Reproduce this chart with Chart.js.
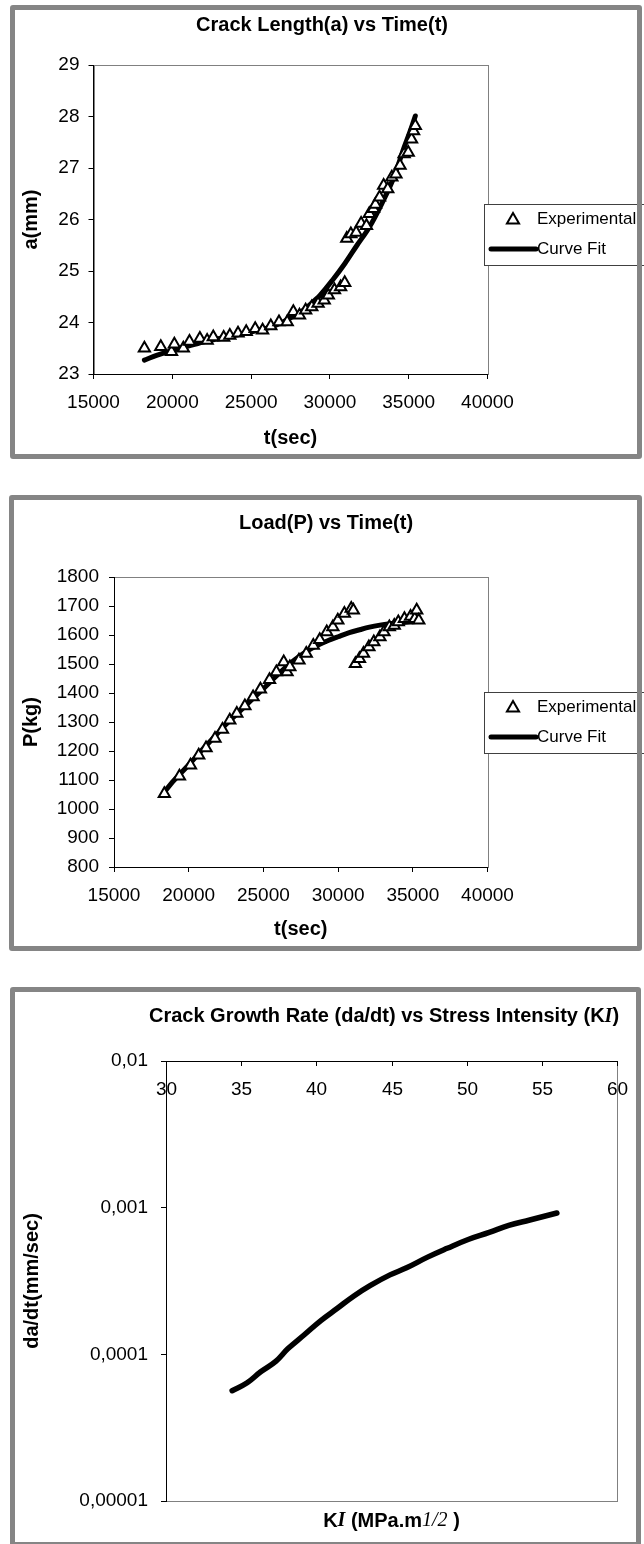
<!DOCTYPE html>
<html>
<head>
<meta charset="utf-8">
<script src="https://cdn.jsdelivr.net/npm/chart.js@4.4.0/dist/chart.umd.min.js"></script>
<style>
  body { margin: 0; background: #fff; width: 644px; height: 1544px; position: relative; overflow: hidden; }
  .box { position: absolute; left: 0; width: 644px; }
  .box canvas { position: absolute; left: 0; top: 0; }
  .frame { position: absolute; border: 5px solid #858585; border-radius: 3px; box-sizing: border-box; }
</style>
</head>
<body>
<div class="box" style="top:0;height:460px"><canvas id="c1" width="644" height="460"></canvas></div>
<div class="box" style="top:490px;height:465px"><canvas id="c2" width="644" height="465"></canvas></div>
<div class="box" style="top:985px;height:559px"><canvas id="c3" width="644" height="559"></canvas></div>
<div class="frame" style="left:10px;top:5px;width:632px;height:454px"></div>
<div class="frame" style="left:9px;top:495px;width:633px;height:456px"></div>
<div class="frame" style="left:10px;top:987px;width:631px;height:560px"></div>
<script>
// chart 1 : crack length vs time
const t1Exp = [18230, 19270, 19950, 20130, 20700, 21090, 21750, 22210, 22600, 23260, 23650, 24170, 24690, 25260, 25730, 26250, 26770, 27290, 27680, 28070, 28460, 28850, 29250, 29640, 29900, 30290, 30680, 30940, 31070, 31330, 31670, 31980, 32320, 32500, 32760, 32890, 33150, 33410, 33670, 33930, 34190, 34450, 34710, 34970, 35180, 35310, 35420];
const a1Exp = [23.50, 23.53, 23.43, 23.58, 23.50, 23.63, 23.69, 23.65, 23.72, 23.71, 23.75, 23.79, 23.82, 23.88, 23.85, 23.93, 24.01, 24.01, 24.21, 24.14, 24.24, 24.30, 24.37, 24.43, 24.53, 24.63, 24.69, 24.77, 25.63, 25.72, 25.75, 25.92, 25.88, 26.11, 26.21, 26.29, 26.43, 26.66, 26.59, 26.82, 26.88, 27.05, 27.27, 27.30, 27.56, 27.72, 27.82];
const t1Fit = [18230, 19000, 20000, 21000, 22080, 23000, 24000, 24690, 25500, 26000, 26770, 27500, 28330, 29000, 29380, 30160, 30940, 31720, 32500, 33280, 34060, 34710, 35100, 35420];
const a1Fit = [23.27, 23.36, 23.46, 23.54, 23.63, 23.69, 23.75, 23.79, 23.85, 23.89, 23.97, 24.09, 24.24, 24.42, 24.53, 24.82, 25.14, 25.50, 25.85, 26.30, 26.82, 27.40, 27.72, 28.01];

// chart 2 : load vs time
const t2Exp = [18370, 19380, 20120, 20670, 21160, 21760, 22260, 22750, 23220, 23760, 24310, 24800, 25410, 25870, 26360, 26580, 26770, 27380, 27870, 28340, 28770, 29240, 29650, 29980, 30420, 30880, 31020, 31160, 31430, 31700, 32060, 32390, 32800, 33070, 33430, 33760, 34030, 34440, 34850, 35130, 35260, 35400];
const p2Exp = [1053, 1113, 1151, 1185, 1210, 1243, 1274, 1306, 1329, 1355, 1386, 1413, 1446, 1472, 1507, 1472, 1490, 1513, 1536, 1564, 1584, 1610, 1628, 1651, 1674, 1691, 1685, 1501, 1518, 1536, 1559, 1576, 1593, 1610, 1628, 1633, 1645, 1656, 1664, 1656, 1685, 1651];
const t2Fit = [18370, 19000, 20070, 21000, 21710, 22500, 23350, 24200, 25000, 25800, 26640, 27300, 28000, 28700, 29380, 30000, 30750, 31500, 32100, 32800, 33480, 34200, 34850, 35400];
const p2Fit = [1059, 1098, 1156, 1210, 1248, 1292, 1334, 1376, 1415, 1455, 1495, 1522, 1547, 1566, 1582, 1594, 1608, 1619, 1627, 1634, 1639, 1643, 1645, 1647];

// chart 3 : crack growth rate vs stress intensity
const k3 = [34.4, 35.4, 36.3, 37.3, 38.1, 39.2, 40.3, 41.4, 42.5, 43.6, 44.9, 46.0, 47.4, 48.7, 50.1, 51.5, 52.8, 54.2, 56.0];
const rate3 = [5.65e-5, 6.4e-5, 7.6e-5, 8.95e-5, 1.09e-4, 1.36e-4, 1.70e-4, 2.06e-4, 2.50e-4, 2.95e-4, 3.48e-4, 3.89e-4, 4.60e-4, 5.28e-4, 6.07e-4, 6.78e-4, 7.58e-4, 8.24e-4, 9.2e-4];
const rateTicks = [1e-5, 1e-4, 1e-3, 1e-2];
const rateLabels = ['0,00001', '0,0001', '0,001', '0,01'];

const SANS = '"Liberation Sans", Arial, sans-serif';
const SERIF = '"Liberation Serif", "Times New Roman", serif';
const BOLD = 'bold 20px ' + SANS;

Chart.defaults.font.family = SANS;
Chart.defaults.color = '#000';

function pts(xs, ys) {
  return xs.map((x, i) => ({ x: x, y: ys[i] }));
}

// draws a row of text pieces centred on cx
function drawRuns(ctx, runs, cx, cy) {
  let total = 0;
  runs.forEach(r => { ctx.font = r.font; r.w = ctx.measureText(r.text).width; total += r.w; });
  let x = cx - total / 2;
  ctx.textAlign = 'left';
  ctx.textBaseline = 'middle';
  runs.forEach(r => { ctx.font = r.font; ctx.fillText(r.text, x, cy); x += r.w; });
}

const sheetText = {
  id: 'sheetText',
  beforeDraw(chart, args, o) {
    const ctx = chart.ctx, a = chart.chartArea;
    ctx.save();
    ctx.strokeStyle = '#808080';
    ctx.lineWidth = 1;
    ctx.strokeRect(Math.round(a.left) + 0.5, Math.round(a.top) + 0.5, Math.round(a.right - a.left), Math.round(a.bottom - a.top));
    ctx.restore();
  },
  afterDraw(chart, args, o) {
    const ctx = chart.ctx, a = chart.chartArea;
    ctx.save();
    ctx.fillStyle = '#000';
    drawRuns(ctx, o.title, o.titleX, o.titleY);

    if (o.legend) {
      const L = o.legend;
      ctx.fillStyle = '#fff';
      ctx.fillRect(L.x, L.y, L.w, L.h);
      ctx.strokeStyle = '#404040';
      ctx.lineWidth = 1;
      ctx.strokeRect(L.x + 0.5, L.y + 0.5, L.w, L.h);
      // triangle marker
      const r = 7, mx = L.x + 29, my = L.y + 16;
      ctx.beginPath();
      ctx.moveTo(mx, my - r);
      ctx.lineTo(mx + r * 0.866, my + r * 0.5);
      ctx.lineTo(mx - r * 0.866, my + r * 0.5);
      ctx.closePath();
      ctx.fillStyle = '#fff';
      ctx.fill();
      ctx.strokeStyle = '#000';
      ctx.lineWidth = 2;
      ctx.stroke();
      // line marker
      ctx.beginPath();
      ctx.moveTo(L.x + 7, L.y + 45);
      ctx.lineTo(L.x + 52, L.y + 45);
      ctx.lineWidth = 5;
      ctx.lineCap = 'round';
      ctx.stroke();
      ctx.fillStyle = '#000';
      ctx.font = '17px ' + SANS;
      ctx.textAlign = 'left';
      ctx.textBaseline = 'middle';
      ctx.fillText('Experimental', L.x + 53, L.y + 15);
      ctx.fillText('Curve Fit', L.x + 53, L.y + 45);
    }

    if (o.topTicks) {
      const sx = chart.scales.x;
      ctx.strokeStyle = '#000';
      ctx.lineWidth = 1;
      ctx.fillStyle = '#000';
      ctx.font = '19px ' + SANS;
      ctx.textAlign = 'center';
      ctx.textBaseline = 'middle';
      sx.ticks.forEach(t => {
        const px = Math.round(sx.getPixelForValue(t.value)) + 0.5;
        ctx.beginPath();
        ctx.moveTo(px, a.top);
        ctx.lineTo(px, a.top + 5);
        ctx.stroke();
        ctx.fillText(String(t.value), px, a.top + 29);
      });
    }

    if (o.bottomTitle) {
      drawRuns(ctx, o.bottomTitle, (a.left + a.right) / 2, o.bottomTitleY);
    }
    ctx.restore();
  }
};

function axis(min, max, step, titleText, titlePad) {
  return {
    type: 'linear',
    min: min,
    max: max,
    ticks: { stepSize: step, padding: 10, font: { size: 19 }, color: '#000', maxRotation: 0, autoSkip: false, callback: v => String(v) },
    grid: { drawOnChartArea: false, tickLength: 5, color: '#000' },
    border: { color: '#000', width: 1 },
    title: { display: true, text: titleText, color: '#000', font: { size: 20, weight: 'bold' }, padding: titlePad }
  };
}

function timeChart(id, tExp, yExp, tFit, yFit, yMin, yMax, yStep, yName, o) {
  const x = axis(15000, 40000, 5000, 't(sec)', { top: 0, bottom: o.xTitlePad });
  x.ticks.padding = 12;
  x.afterFit = s => { s.height = o.xHeight; };
  const y = axis(yMin, yMax, yStep, yName, { top: 19, bottom: 0 });
  y.ticks.padding = o.yPad;
  y.afterFit = s => { s.width = o.yWidth; };
  new Chart(document.getElementById(id), {
    type: 'scatter',
    data: {
      datasets: [{
        label: 'Experimental',
        data: pts(tExp, yExp),
        order: 0,
        pointStyle: 'triangle',
        pointRadius: 6.5,
        pointBackgroundColor: '#fff',
        pointBorderColor: '#000',
        pointBorderWidth: 2,
        showLine: false
      }, {
        label: 'Curve Fit',
        data: pts(tFit, yFit),
        order: 1,
        showLine: true,
        borderColor: '#000',
        borderWidth: 5,
        borderCapStyle: 'round',
        pointRadius: 0,
        cubicInterpolationMode: 'monotone'
      }]
    },
    options: {
      responsive: false,
      animation: false,
      layout: { padding: { top: o.top, right: 156.5, bottom: 0, left: 0 } },
      scales: { x: x, y: y },
      plugins: {
        legend: { display: false },
        tooltip: { enabled: false },
        sheetText: { title: [{ text: o.title, font: BOLD }], titleX: o.titleX, titleY: o.titleY, legend: o.legend }
      }
    },
    plugins: [sheetText]
  });
}

timeChart('c1', t1Exp, a1Exp, t1Fit, a1Fit, 23, 29, 1, 'a(mm)', {
  top: 65, xHeight: 86, xTitlePad: 10, yWidth: 93.5, yPad: 9,
  title: 'Crack Length(a) vs Time(t)', titleX: 322, titleY: 25,
  legend: { x: 484, y: 204, w: 170, h: 61 }
});

timeChart('c2', t2Exp, p2Exp, t2Fit, p2Fit, 800, 1800, 100, 'P(kg)', {
  top: 87, xHeight: 88, xTitlePad: 14, yWidth: 114, yPad: 10,
  title: 'Load(P) vs Time(t)', titleX: 326, titleY: 33,
  legend: { x: 484, y: 202, w: 170, h: 61 }
});

new Chart(document.getElementById('c3'), {
  type: 'scatter',
  data: {
    datasets: [{
      label: 'da/dt',
      data: pts(k3, rate3),
      showLine: true,
      borderColor: '#000',
      borderWidth: 5.5,
      borderCapStyle: 'round',
      pointRadius: 0,
      tension: 0.4
    }]
  },
  options: {
    responsive: false,
    animation: false,
    layout: { padding: { top: 76, right: 27, bottom: 43, left: 0 } },
    scales: {
      x: {
        type: 'linear',
        position: 'top',
        min: 30,
        max: 60,
        ticks: { stepSize: 5, display: false },
        grid: { display: true, drawOnChartArea: false, drawTicks: false },
        border: { color: '#000', width: 1 },
        afterFit: s => { s.height = 0; }
      },
      y: {
        type: 'logarithmic',
        min: 1e-5,
        max: 1e-2,
        afterBuildTicks: s => { s.ticks = rateTicks.map(v => ({ value: v })); },
        ticks: { padding: 13, font: { size: 19 }, color: '#000', autoSkip: false, callback: (v, i) => rateLabels[i] },
        grid: { drawOnChartArea: false, tickLength: 5, color: '#000' },
        border: { color: '#000', width: 1 },
        title: { display: true, text: 'da/dt(mm/sec)', color: '#000', font: { size: 20, weight: 'bold' }, padding: { top: 20, bottom: 0 } },
        afterFit: s => { s.width = 166; }
      }
    },
    plugins: {
      legend: { display: false },
      tooltip: { enabled: false },
      sheetText: {
        title: [
          { text: 'Crack Growth Rate (da/dt) vs Stress Intensity (K', font: BOLD },
          { text: 'I', font: 'italic bold 20px ' + SERIF },
          { text: ')', font: BOLD }
        ],
        titleX: 384, titleY: 31.5,
        topTicks: true,
        bottomTitle: [
          { text: 'K', font: BOLD },
          { text: 'I', font: 'italic bold 20px ' + SERIF },
          { text: ' (MPa.m', font: BOLD },
          { text: '1/2', font: 'italic 20px ' + SERIF },
          { text: ' )', font: BOLD }
        ],
        bottomTitleY: 536
      }
    }
  },
  plugins: [sheetText]
});
</script>
</body>
</html>
